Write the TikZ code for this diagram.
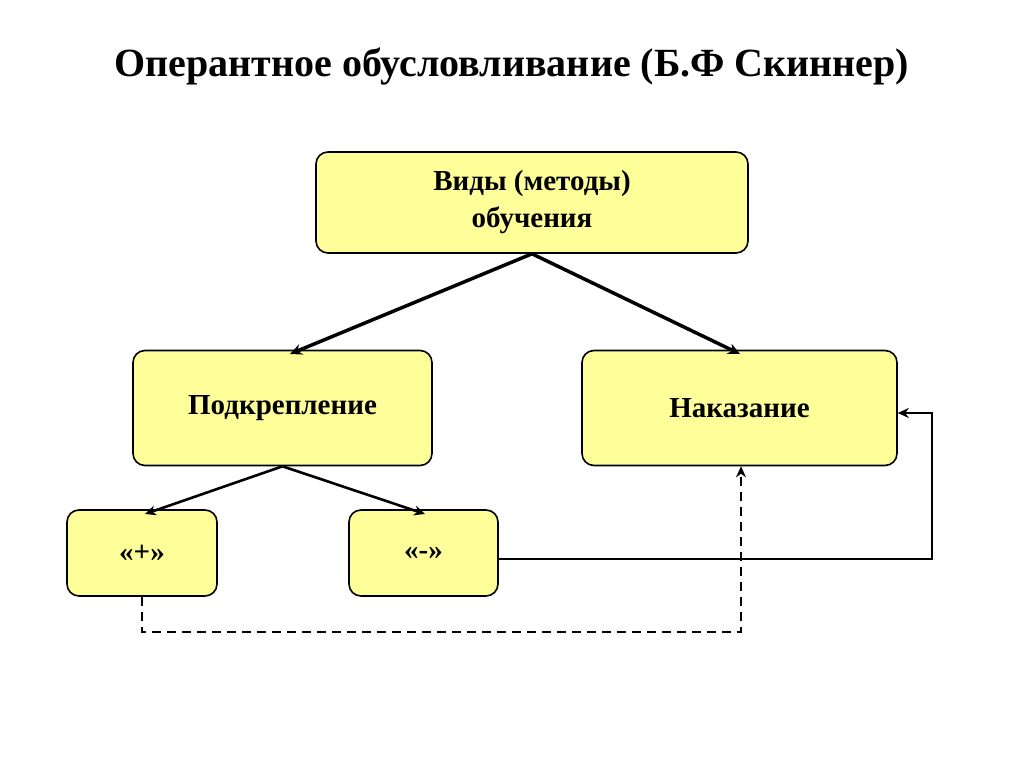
\documentclass[tikz,border=0pt]{standalone}
\usepackage{fontspec}
\setmainfont{Liberation Serif}
\usetikzlibrary{arrows.meta}
\definecolor{boxfill}{RGB}{255,255,153}
\begin{document}
\begin{tikzpicture}[x=1pt,y=-1pt,
  box/.style={draw=black,line width=1.6pt,fill=boxfill,rounded corners=12pt,align=center,font=\bfseries\fontsize{29}{37}\selectfont,inner sep=0pt},
  arr/.style={-{Stealth[length=12pt,width=11pt]},line width=3.5pt},
  arrs/.style={-{Stealth[length=11pt,width=10pt]},line width=2.6pt}]
\useasboundingbox (0,0) rectangle (1024,767);
\node[font=\bfseries\fontsize{40}{46}\selectfont] (title) at (512,67) {Оперантное обусловливание (Б.Ф Скиннер)};
\node[box,minimum width=432pt,minimum height=101pt] (top) at (532,202.5) {Виды (методы)\\обучения};
\node[box,minimum width=299pt,minimum height=115pt] (pod) at (282.5,408) {Подкрепление};
\node[box,minimum width=315pt,minimum height=115pt] (nak) at (739.5,408) {Наказание};
\node[box,minimum width=150pt,minimum height=86pt] (plus) at (142,553) {«+»};
\node[box,minimum width=149pt,minimum height=86pt] (minus) at (423.5,553) {«-»};
\path[draw=none] (0,0);
\coordinate (t0) at (top.south);
\draw[arr] (t0) -- (290,354);
\draw[arr] (t0) -- (740,354);
\draw[arrs] (pod.south) -- (145,514);
\draw[arrs] (pod.south) -- (425,514);
\coordinate (c1) at (932,559);
\coordinate (c2) at (932,413);
\draw[arrs] (minus.east |- c1) -- (c1) -- (c2) -- (nak.east |- c2);
\coordinate (d1) at (142,632);
\coordinate (d2) at (741,632);
\draw[arrs,dash pattern=on 9pt off 6pt] (plus.south) -- (d1) -- (d2) -- (nak.south -| d2);
\end{tikzpicture}
\end{document}
